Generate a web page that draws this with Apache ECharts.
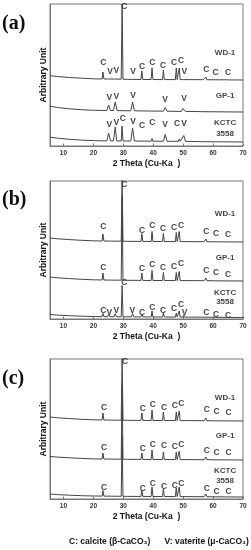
<!DOCTYPE html>
<html><head><meta charset="utf-8">
<script src="https://cdn.jsdelivr.net/npm/echarts@6/dist/echarts.min.js"></script>
<style>html,body{margin:0;padding:0;background:#fff}#c{width:251px;height:550px}</style>
</head><body><div id="c"></div>
<script>
// ---- data (2θ, intensity above each pattern's own baseline) ----
const thetaTicks = [10, 20, 30, 40, 50, 60, 70];
const panelTags = ['(a)', '(b)', '(c)'];

// panel (a)
const aWD = [[5.5,4.3],[8,3.5],[12,2.5],[16,1.8],[20,1.2],[22.9,1],[23.2,8],[23.5,1],[25,1],[25.3,2.5],[25.6,1],[27,1],[27.3,2.5],[27.6,1],[29.3,0.8],[29.6,76],[29.9,0.8],[31.5,0.6],[31.7,2],[31.9,0.6],[33,0.6],[33.3,1.5],[33.6,0.5],[35.9,0.5],[36.2,9],[36.5,0.5],[39.3,0.5],[39.6,12],[39.9,0.5],[43.1,0.4],[43.4,10],[43.7,0.4],[47.4,0.4],[47.7,12],[48.0,0.4],[48.4,0.4],[48.7,12],[49.0,0.4],[50.1,0.4],[50.4,1.5],[50.7,0.3],[56.8,0.3],[57.1,1.5],[57.4,0.4],[57.6,3],[57.9,0.3],[60.7,0.2],[61,2],[61.3,0.2],[64.6,0.2],[64.9,2],[65.2,0.2],[65.5,0.1],[65.7,1.5],[65.9,0.1],[70,0]];
const aGP = [[5.5,5.8],[8,4.5],[12,3.2],[16,2.3],[19,1.8],[20.8,1.7],[21.1,3],[21.4,1.6],[24.5,1.5],[25.1,7],[25.7,1.5],[26.7,1.5],[27.3,10],[27.9,1.4],[32.5,1.2],[33.1,10],[33.7,1.2],[43.4,0.8],[44.0,4.5],[44.6,0.8],[49.4,0.6],[49.9,3.5],[50.2,4],[50.8,0.6],[55.6,0.4],[56,1.5],[56.4,0.3],[70,0]];
const aKC = [[5.5,4.8],[8,3.8],[12,2.7],[16,1.9],[20,1.4],[20.8,1.3],[21.1,3],[21.4,1.3],[22.9,1.2],[23.2,2.5],[23.5,1.2],[24.5,1.1],[25.1,9],[25.7,1.1],[26.7,1.1],[27.3,15],[27.8,1.1],[29.3,1],[29.6,16],[29.9,1],[32.5,1],[33.1,14],[33.7,1],[35.9,0.9],[36.2,2.5],[36.5,0.9],[39.3,0.8],[39.6,3.5],[39.9,0.8],[43.4,0.8],[44,7.5],[44.6,0.7],[47.4,0.7],[47.7,2.5],[48,0.7],[48.4,0.7],[48.7,3],[49,0.7],[49.6,0.6],[50.2,6.5],[50.8,0.6],[55.6,0.4],[56,1.5],[56.4,0.3],[57.3,0.3],[57.6,1.2],[57.9,0.3],[70,0]];

// panel (b)
const bWD = [[5.5,4],[8,3.2],[12,2.4],[16,1.7],[20,1.2],[22.9,1],[23.2,8],[23.5,1],[26,0.9],[29.3,0.8],[29.6,63],[29.9,0.8],[31.5,0.7],[31.7,1.8],[31.9,0.7],[35.9,0.6],[36.2,8.5],[36.5,0.6],[39.3,0.5],[39.6,10.5],[39.9,0.5],[43.1,0.5],[43.4,8.5],[43.7,0.5],[47.4,0.4],[47.7,9.5],[48.0,0.4],[48.4,0.4],[48.7,10.5],[49.0,0.4],[57.0,0.3],[57.3,1.2],[57.5,0.3],[57.6,3],[57.9,0.3],[60.7,0.2],[61,2],[61.3,0.2],[64.6,0.1],[64.9,2],[65.2,0.1],[65.5,0.1],[65.7,1],[65.9,0.1],[70,0]];
const bGP = [[5.5,4],[8,3.2],[12,2.4],[16,1.7],[20,1.2],[22.9,1],[23.2,8],[23.5,1],[26,0.9],[29.3,0.8],[29.6,85],[29.9,0.8],[31.5,0.7],[31.7,1.5],[31.9,0.7],[35.9,0.6],[36.2,8],[36.5,0.6],[39.3,0.5],[39.6,10.5],[39.9,0.5],[43.1,0.5],[43.4,8.5],[43.7,0.5],[47.4,0.4],[47.7,8.5],[48,0.4],[48.4,0.4],[48.7,9.5],[49,0.4],[57.0,0.3],[57.3,1.2],[57.5,0.3],[57.6,3],[57.9,0.3],[60.7,0.2],[61,2],[61.3,0.2],[64.6,0.1],[64.9,2],[65.2,0.1],[70,0]];
const bKC = [[5.5,3],[8,2.4],[12,1.8],[16,1.3],[20,1],[20.8,0.9],[21.1,1.8],[21.4,0.9],[22.9,0.9],[23.2,4],[23.5,0.9],[24.7,0.8],[25.1,3],[25.5,0.8],[26.9,0.8],[27.3,3.8],[27.7,0.8],[29.3,0.7],[29.6,32],[29.9,0.7],[32.7,0.7],[33.1,4],[33.5,0.6],[35.9,0.6],[36.2,3.5],[36.5,0.6],[39.3,0.5],[39.6,6.5],[39.9,0.5],[43.1,0.5],[43.4,4.5],[43.7,0.5],[47.4,0.4],[47.7,4.5],[48.0,0.4],[48.4,0.4],[48.7,6.5],[49,0.4],[49.9,0.4],[50.2,2.5],[50.5,0.4],[57.3,0.3],[57.6,2.2],[57.9,0.3],[60.7,0.2],[61,1.5],[61.3,0.2],[64.6,0.1],[64.9,1.5],[65.2,0.1],[70,0]];

// panel (c)
const cWD = [[5.5,4],[8,3.2],[12,2.4],[16,1.7],[20,1.2],[22.9,1],[23.2,8],[23.5,1],[26,0.9],[29.3,0.8],[29.6,63],[29.9,0.8],[31.5,0.7],[31.7,1.5],[31.9,0.7],[35.9,0.6],[36.2,8],[36.5,0.6],[39.3,0.5],[39.6,11],[39.9,0.5],[43.1,0.5],[43.4,9],[43.7,0.5],[47.4,0.4],[47.7,9],[48.0,0.4],[48.4,0.4],[48.7,10],[49.0,0.4],[57.0,0.3],[57.3,1.2],[57.5,0.3],[57.6,3],[57.9,0.3],[60.7,0.2],[61,2],[61.3,0.2],[64.6,0.1],[64.9,2],[65.2,0.1],[70,0]];
const cGP = [[5.5,3.5],[8,2.9],[12,2.2],[16,1.6],[20,1.1],[22.9,1],[23.2,7],[23.5,1],[26,0.9],[29.3,0.8],[29.6,75],[29.9,0.8],[31.5,0.7],[31.7,1.5],[31.9,0.7],[35.9,0.6],[36.2,7],[36.5,0.6],[39.3,0.5],[39.6,10],[39.9,0.5],[43.1,0.5],[43.4,8],[43.7,0.5],[47.4,0.4],[47.7,8],[48,0.4],[48.4,0.4],[48.7,9],[49,0.4],[57.0,0.3],[57.3,1.2],[57.5,0.3],[57.6,3],[57.9,0.3],[60.7,0.2],[61,2],[61.3,0.2],[64.6,0.1],[64.9,2],[65.2,0.1],[70,0]];
const cKC = [[5.5,3],[8,2.4],[12,1.8],[16,1.3],[20,1],[22.9,0.9],[23.2,6.5],[23.5,0.9],[26,0.8],[29.3,0.7],[29.6,62],[29.9,0.7],[31.5,0.6],[31.7,1.5],[31.9,0.6],[35.9,0.6],[36.2,7],[36.5,0.6],[39.3,0.5],[39.6,10],[39.9,0.5],[43.1,0.5],[43.4,8],[43.7,0.5],[47.4,0.4],[47.7,9],[48.0,0.4],[48.4,0.4],[48.7,10],[49,0.4],[57.0,0.3],[57.3,1.2],[57.5,0.3],[57.6,3],[57.9,0.3],[60.7,0.2],[61,2],[61.3,0.2],[64.6,0.1],[64.9,2],[65.2,0.1],[70,0]];

// vertical offsets of the stacked patterns (WD-1, GP-1, KCTC 3558)
const offsetsA = [66, 34, 4];
const offsetsB = [77, 38, 1.5];
const offsetsC = [78, 39, 2];

// phase labels [2θ, y, text]
const peakLabelsA = [[23.3,83,'C'],[25.6,74,'V'],[27.7,75,'V'],[30.3,139,'C'],[33.3,74,'V'],[36.3,79,'C'],[39.7,83,'C'],[43.3,80,'C'],[47.0,83,'C'],[49.3,85,'C'],[50.4,74,'V'],[57.7,76,'C'],[60.8,73,'C'],[65.0,73,'C'],
  [25.3,48,'V'],[27.7,49,'V'],[33.3,50,'V'],[44.0,46,'V'],[50.3,47,'V'],
  [25.3,21,'V'],[27.7,23,'V'],[29.8,27,'C'],[33.3,24,'V'],[36.3,20,'C'],[39.7,23,'C'],[44.0,21,'V'],[48.0,22,'C'],[50.3,22,'V']];
const peakLabelsB = [[23.3,92,'C'],[30.3,134,'C'],[36.3,88,'C'],[39.7,93,'C'],[43.3,90,'C'],[47.0,91,'C'],[49.3,93,'C'],[57.7,87,'C'],[61.0,85,'C'],[65.0,84,'C'],
  [23.3,51,'C'],[36.3,50,'C'],[39.7,54,'C'],[43.3,51,'C'],[47.0,52,'C'],[49.3,55,'C'],[57.7,48,'C'],[61.0,46,'C'],[65.0,44,'C'],
  [23.3,8,'C'],[25.3,6,'V'],[27.7,8,'V'],[30.3,36,'C'],[33.0,8,'V'],[36.3,6,'C'],[39.7,11,'C'],[43.3,8,'C'],[47.0,10,'C'],[49.3,14,'C'],[50.5,6,'V'],[57.7,6,'C'],[61.0,4,'C'],[65.0,3,'C']];
const peakLabelsC = [[23.6,91,'C'],[30.6,137,'C'],[36.5,90,'C'],[39.9,94,'C'],[43.6,91,'C'],[47.2,93,'C'],[49.4,95,'C'],[57.9,89,'C'],[61.2,87,'C'],[65.2,86,'C'],
  [23.6,51,'C'],[36.5,50,'C'],[39.9,54,'C'],[43.6,53,'C'],[47.2,52,'C'],[49.4,54,'C'],[57.9,48,'C'],[61.2,46,'C'],[65.2,46,'C'],
  [23.6,11,'C'],[36.5,10,'C'],[39.9,15,'C'],[43.6,12,'C'],[47.2,13,'C'],[49.4,15,'C'],[57.9,10,'C'],[61.2,7,'C'],[65.2,7,'C']];

// sample names [2θ, y, text]
const sampleNamesA = [[64,93,'WD-1'],[64,50,'GP-1'],[64,23,'KCTC'],[64,12,'3558']];
const sampleNamesB = [[64,105,'WD-1'],[64,61,'GP-1'],[64,26,'KCTC'],[64,17,'3558']];
const sampleNamesC = [[64,101,'WD-1'],[64,63,'GP-1'],[64,28,'KCTC'],[64,18,'3558']];

// ---- chart ----
const FONT = '"Liberation Sans", Arial, sans-serif';
const grids = [
  {left: 50, right: 8, top: 4, height: 142},
  {left: 50, right: 8, top: 181, height: 138},
  {left: 50, right: 8, top: 359, height: 140}
];
const panels = [
  {patterns: [aWD, aGP, aKC], offsets: offsetsA, labels: peakLabelsA, names: sampleNamesA},
  {patterns: [bWD, bGP, bKC], offsets: offsetsB, labels: peakLabelsB, names: sampleNamesB},
  {patterns: [cWD, cGP, cKC], offsets: offsetsC, labels: peakLabelsC, names: sampleNamesC}
];

const xAxes = [], yAxes = [], series = [];
grids.forEach((g, i) => {
  g.show = true; g.borderColor = '#777'; g.borderWidth = 1; g.backgroundColor = 'transparent';
  xAxes.push({
    type: 'value', gridIndex: i, min: 5.5, max: 70,
    name: '2 Theta (Cu-Ka  )', nameLocation: 'middle', nameGap: 13,
    nameTextStyle: {fontFamily: FONT, fontWeight: 'bold', fontSize: 8.5, color: '#111'},
    axisLine: {show: true, lineStyle: {color: '#777', width: 1}},
    axisTick: {show: true, inside: true, length: 2.5, customValues: thetaTicks, lineStyle: {color: '#777'}},
    axisLabel: {show: true, customValues: thetaTicks, margin: 4, fontFamily: FONT, fontWeight: 'bold', fontSize: 6.5, color: '#333'},
    splitLine: {show: false}
  });
  yAxes.push({
    type: 'value', gridIndex: i, min: 0, max: g.height,
    name: 'Arbitrary Unit', nameLocation: 'middle', nameGap: 2, nameRotate: 90,
    nameTextStyle: {fontFamily: FONT, fontWeight: 'bold', fontSize: 8.5, color: '#111'},
    axisLine: {show: true, lineStyle: {color: '#777', width: 1}},
    axisTick: {show: false}, axisLabel: {show: false}, splitLine: {show: false}
  });
  const p = panels[i];
  p.patterns.forEach((pat, k) => {
    series.push({
      type: 'line', xAxisIndex: i, yAxisIndex: i, showSymbol: false, symbol: 'none',
      clip: true, silent: true, animation: false,
      lineStyle: {color: '#444', width: 1},
      data: pat.map(d => [d[0], d[1] + p.offsets[k]])
    });
  });
  const textSeries = (arr, size) => ({
    type: 'scatter', xAxisIndex: i, yAxisIndex: i, symbolSize: 1, silent: true, animation: false,
    itemStyle: {color: 'rgba(0,0,0,0)'},
    label: {show: true, position: 'inside', formatter: q => q.value[2], fontFamily: FONT,
            fontWeight: 'bold', fontSize: size, color: '#111'},
    data: arr
  });
  series.push(textSeries(p.labels, 8.5));
  series.push(textSeries(p.names, 8));
});

const graphic = [];
const tagY = [25, 201, 380];
panelTags.forEach((t, i) => {
  graphic.push({type: 'text', left: 2, top: tagY[i] - 11, style: {text: t, fill: '#111',
    font: 'bold 20px "Liberation Serif", "Times New Roman", serif'}});
});
graphic.push({type: 'text', left: 69, top: 537, style: {
  text: 'C: calcite (\u03B2-CaCO\u2083)      V: vaterite (\u03BC-CaCO\u2083)', fill: '#111',
  font: 'bold 8.5px "Liberation Sans", Arial, sans-serif'}});

const chart = echarts.init(document.getElementById('c'), null, {renderer: 'canvas'});
chart.setOption({
  animation: false, backgroundColor: '#fff',
  grid: grids, xAxis: xAxes, yAxis: yAxes, series: series, graphic: graphic
});
</script></body></html>
